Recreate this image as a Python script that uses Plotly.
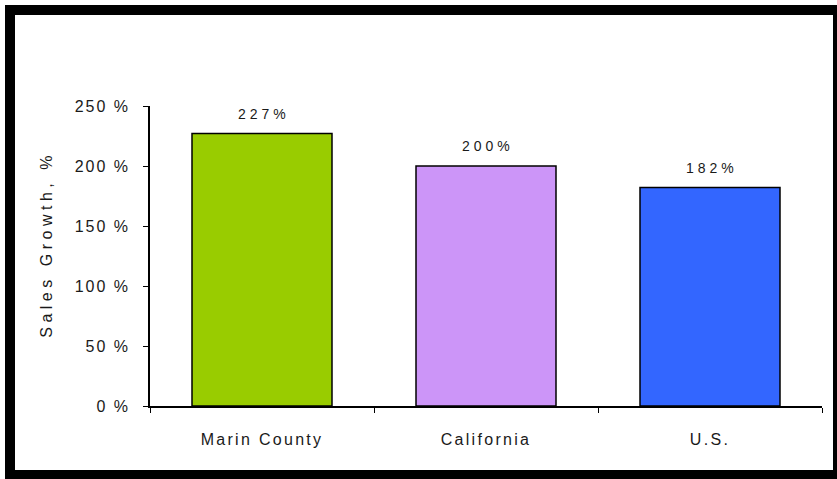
import plotly.graph_objects as go

categories = ["Marin County", "California", "U.S."]
values = [227, 200, 182]
labels = ["227%", "200%", "182%"]
colors = ["#99CC00", "#CC95F8", "#3366FF"]
y_ticks = [0, 50, 100, 150, 200, 250]
y_tick_text = ["0 %", "50 %", "100 %", "150 %", "200 %", "250 %"]
y_title = "Sales Growth, %"

W, H = 837, 479
L, R, T, B = 150, 15, 106, 73
pw, ph = W - L - R, H - T - B

def px(x):
    return (x - L) / pw

def py(y):
    return (H - B - y) / ph

FONT = "Liberation Sans, Arial, sans-serif"

fig = go.Figure(go.Bar(
    x=categories, y=values,
    marker=dict(color=colors, line=dict(color="black", width=1.5)),
    width=0.625, hoverinfo="skip",
))

annotations = []
for c, v, t in zip(categories, values, labels):
    annotations.append(dict(x=c, y=v, text=t, showarrow=False, yshift=20,
                            xshift=2, font=dict(family=FONT, size=14, color="#1a1a1a")))
annotations.append(dict(xref="paper", yref="paper", x=px(46), y=py(245),
                        text=y_title, textangle=-90, showarrow=False,
                        xanchor="center", yanchor="middle",
                        font=dict(family=FONT, size=16, color="#1a1a1a")))

black_boxes = [(5, 5, 15, 479), (5, 5, 837, 15), (833, 5, 837, 479), (5, 470, 837, 479)]
shapes = []
for x0, y0, x1, y1 in black_boxes:
    shapes.append(dict(type="rect", xref="paper", yref="paper",
                       x0=px(x0), x1=px(x1), y0=py(y0), y1=py(y1),
                       fillcolor="black", line=dict(width=0), layer="above"))

fig.update_layout(
    width=W, height=H,
    margin=dict(l=L, r=R, t=T, b=B),
    paper_bgcolor="white", plot_bgcolor="white",
    font=dict(family=FONT, size=16, color="#1a1a1a"),
    showlegend=False,
    shapes=shapes,
    annotations=annotations,
    xaxis=dict(showline=True, linecolor="black", linewidth=1.5,
               ticks="outside", tickson="boundaries", ticklen=5, tickcolor="black",
               tickfont=dict(size=16), showgrid=False, ticklabelstandoff=18),
    yaxis=dict(range=[0, 250], showline=True, linecolor="black", linewidth=1.5,
               ticks="outside", ticklen=5, tickcolor="black",
               tickvals=y_ticks, ticktext=y_tick_text, tickfont=dict(size=16),
               showgrid=False, zeroline=False, ticklabelstandoff=10),
    bargap=0.375,
)

post = """
document.body.style.margin='0';
document.querySelectorAll('.xtick text').forEach(function(t){t.style.letterSpacing='2.3px';});
document.querySelectorAll('.ytick text').forEach(function(t){t.style.letterSpacing='2px';});
document.querySelectorAll('.annotation-text').forEach(function(t){
  if (t.textContent.indexOf('Sales') === 0) { t.style.letterSpacing='4.5px'; }
  else { t.style.letterSpacing='4px'; }
});
"""

fig.write_html("out.html", post_script=post, config={"displayModeBar": False})
